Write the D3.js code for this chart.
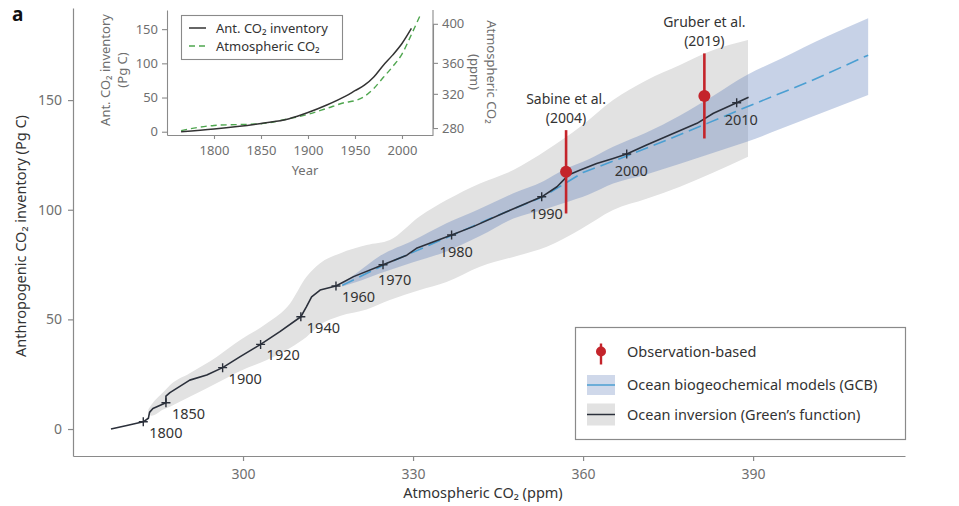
<!DOCTYPE html>
<html><head><meta charset="utf-8">
<script src="https://cdn.jsdelivr.net/npm/d3@7"></script>
<style>
html,body{margin:0;padding:0;background:#fff;}
svg{display:block;font-family:"Noto Sans",sans-serif;}
</style></head>
<body><svg id="c" width="959" height="506"></svg>
<script>
// ---------- DATA ----------
// Ocean inversion (Green's function) path: atmospheric CO2 (ppm) vs inventory (Pg C)
const invPpm = [276.7,279.5,282.4,283.3,283.5,284.1,286.4,286.4,287.1,290.6,293.6,296.4,299.5,303.1,306.5,310.2,311.2,312.1,313.6,316.4,319.5,324.7,328.9,330.6,336.8,340.6,346.5,352.7,355.4,357.4,359.5,362.4,365.3,367.7,371.2,375.9,380.1,383,387.1,389.2];
const invPg  = [0,1.6,3.3,4.9,7.6,9.4,12,15,16.6,22.3,24.6,28,33,38.6,44.4,51.2,55.8,60.3,63.4,65.2,69.5,74.9,79.3,82.4,88.5,92.3,99.1,105.9,110.5,115.8,118.1,121.1,123.4,125.4,129.5,134.8,139.4,144,148.8,151.3];
// Inversion uncertainty band
const greyPpm   = [283.3,283.8,286,287.1,290.6,295.4,299.5,304.2,308.3,311.2,313.6,317.1,321.8,325.9,331.2,335.9,341.8,347.7,353.6,359.5,365.3,371.2,377.1,383,389.1];
const greyLow   = [8,6,9,10.2,14.7,21,26.5,31.5,37,42,47.5,51.5,54.5,58.8,63.4,67,74,78.5,83.1,91,99.9,105,110.5,117,124.2];
const greyHigh  = [9,11,17,20,25.4,33,40.6,48.2,57.3,69.4,75.6,80.1,83.9,86.2,97,104.4,112,118.1,127.2,137.8,150,159.1,166,172.8,177.4];
// Ocean biogeochemical models (GCB)
const gcbPpm   = [317.5,325,337,345,353,360,367.7,375,382,388.4,400,410.3];
const gcbMean  = [65.5,75,88.5,97.5,106,117,124.5,132,139.5,146.4,158.5,170.5];
const bandPpm  = [317.5,320,324.2,330,335.9,341.8,347.7,353,356.5,361,365.3,371,377.1,383,388.9,395,403,410.3];
const bandLow  = [65,67,71,76,81,88,96,100,103,107,112,116,121,126,131,137,145,152.3];
const bandHigh = [66.5,71,79,86,93.8,100.5,107.5,113,118.1,123,128.7,135,143,152,161.4,169,179,187.3];
// Year markers
const markYears = [1800,1850,1900,1920,1940,1960,1970,1980,1990,2000,2010];
const markPpm   = [282.4,286.4,296.4,303.1,310.2,316.4,324.7,336.8,352.7,367.7,387.1];
const markPg    = [3.3,12,28,38.6,51.2,65.2,74.9,88.5,105.9,125.4,148.8];
// Observation-based estimates
const obsNames = ["Sabine et al.","Gruber et al."];
const obsYears = ["(2004)","(2019)"];
const obsPpm   = [357,381.4];
const obsPg    = [117.3,151.9];
const obsErr   = [19,19.4];
// Axis ticks
const xTicks = [300,330,360,390];
const yTicks = [0,50,100,150];
// Inset: time series
const insetYears = [1765,1800,1850,1880,1900,1920,1940,1950,1960,1970,1980,1990,2000,2010];
const insetInv   = [0,4,12,19,28,39,52,60,68,80,97,112,129,151];
const co2Years   = [1765,1800,1850,1880,1900,1920,1940,1950,1960,1970,1980,1990,2000,2010,2020];
const co2Ppm     = [277,283,285,291,296,303,310,312,317,327,341,355,369,389,410];
const insetXTicks = [1800,1850,1900,1950,2000];
const insetYTicks = [0,50,100,150];
const insetRTicks = [280,320,360,400];
const insetRTickEquiv = [5.4,55.4,100.7,157.8]; // inventory level at which each right-axis tick sits

// ---------- STYLE ----------
const C = {grey:"#e2e2e2", band:"rgba(95,125,185,0.35)", gcb:"#4b9fd2", inv:"#2b303b",
           red:"#c4242b", axis:"#8a8a8a", tick:"#6f6f6f", text:"#333", green:"#4fa64f"};

const svg = d3.select("#c");
const x = d3.scaleLinear().domain([270,416.8]).range([73,905]);
const y = d3.scaleLinear().domain([-12.3,192]).range([456,8]);

// bands
const greyData = greyPpm.map((p,i)=>({p,lo:greyLow[i],hi:greyHigh[i]}));
const bandData = bandPpm.map((p,i)=>({p,lo:bandLow[i],hi:bandHigh[i]}));
const area = d3.area().x(d=>x(d.p)).y0(d=>y(d.lo)).y1(d=>y(d.hi)).curve(d3.curveMonotoneX);
svg.append("path").attr("d",area(greyData)).attr("fill",C.grey);
svg.append("path").attr("d",area(bandData)).attr("fill",C.band);

// GCB dashed line
const gcbData = gcbPpm.map((p,i)=>({p,v:gcbMean[i]}));
const line = d3.line().x(d=>x(d.p)).y(d=>y(d.v)).curve(d3.curveLinear);
svg.append("path").attr("d",line(gcbData)).attr("fill","none").attr("stroke",C.gcb)
  .attr("stroke-width",1.6).attr("stroke-dasharray","13,6");

// inversion line
const invData = invPpm.map((p,i)=>({p,v:invPg[i]}));
svg.append("path").attr("d",line(invData)).attr("fill","none").attr("stroke",C.inv)
  .attr("stroke-width",1.6).attr("stroke-linejoin","round");

// year markers
const marks = markYears.map((yr,i)=>({yr,p:markPpm[i],v:markPg[i]}));
svg.selectAll(".mk").data(marks).join("path").attr("class","mk")
  .attr("transform",d=>`translate(${x(d.p)},${y(d.v)})`)
  .attr("d","M-4.5,0H4.5M0,-4.5V4.5").attr("stroke",C.inv).attr("stroke-width",1.4);
function lblOff(yr){ if(yr<=1960) return [6,11]; if(yr===1970) return [-5,15]; return [-12,17]; }
svg.selectAll(".yl").data(marks).join("text").attr("class","yl")
  .attr("x",d=>x(d.p)+lblOff(d.yr)[0]).attr("y",d=>y(d.v)+lblOff(d.yr)[1])
  .attr("dy","0.35em").attr("font-size",14.5).attr("fill",C.text).text(d=>d.yr);

// observations
const obs = obsNames.map((n,i)=>({n,yr:obsYears[i],p:obsPpm[i],v:obsPg[i],e:obsErr[i]}));
const og = svg.selectAll(".ob").data(obs).join("g").attr("class","ob");
og.append("line").attr("x1",d=>x(d.p)).attr("x2",d=>x(d.p))
  .attr("y1",d=>y(d.v-d.e)).attr("y2",d=>y(d.v+d.e)).attr("stroke",C.red).attr("stroke-width",2.6);
og.append("circle").attr("cx",d=>x(d.p)).attr("cy",d=>y(d.v)).attr("r",6).attr("fill",C.red);
og.append("text").attr("x",d=>x(d.p)).attr("y",d=>y(d.v+d.e)-31).attr("dy","0.35em")
  .attr("text-anchor","middle").attr("font-size",14).attr("fill",C.text).text(d=>d.n);
og.append("text").attr("x",d=>x(d.p)).attr("y",d=>y(d.v+d.e)-12).attr("dy","0.35em")
  .attr("text-anchor","middle").attr("font-size",14).attr("fill",C.text).text(d=>d.yr);

// axes
function styleAxis(g){
  g.selectAll(".domain").attr("stroke",C.axis).attr("stroke-width",1.2);
  g.selectAll(".tick line").attr("stroke",C.axis).attr("stroke-width",1.2);
  g.selectAll(".tick text").attr("fill",C.tick).attr("font-size",14).attr("font-family","Noto Sans");
}
svg.append("g").attr("transform","translate(0,456)")
  .call(d3.axisBottom(x).tickValues(xTicks).tickSize(5).tickSizeOuter(0).tickPadding(8)).call(styleAxis);
svg.append("g").attr("transform","translate(73,0)")
  .call(d3.axisLeft(y).tickValues(yTicks).tickSize(5).tickSizeOuter(0).tickPadding(6)).call(styleAxis);
svg.append("text").attr("x",483).attr("y",493).attr("dy","0.35em").attr("text-anchor","middle")
  .attr("font-size",14.5).attr("fill",C.text).text("Atmospheric CO₂ (ppm)");
svg.append("text").attr("transform","translate(21,236) rotate(-90)").attr("dy","0.35em")
  .attr("text-anchor","middle").attr("font-size",14.5).attr("fill",C.text)
  .text("Anthropogenic CO₂ inventory (Pg C)");
svg.append("text").attr("x",12).attr("y",21).attr("font-size",19).attr("font-weight","bold")
  .attr("fill","#111").text("a");

// legend
const lg = svg.append("g");
lg.append("rect").attr("x",575.5).attr("y",327.5).attr("width",330).attr("height",112)
  .attr("fill","#fff").attr("stroke",C.axis).attr("stroke-width",1.2);
const ly = [351.5,385,414.5], lx = 601, tx = 627;
lg.append("line").attr("x1",lx).attr("x2",lx).attr("y1",ly[0]-8).attr("y2",ly[0]+13)
  .attr("stroke",C.red).attr("stroke-width",2.4);
lg.append("circle").attr("cx",lx).attr("cy",ly[0]).attr("r",5).attr("fill",C.red);
lg.append("rect").attr("x",587).attr("y",ly[1]-10).attr("width",28).attr("height",20).attr("fill","rgba(95,125,185,0.3)");
lg.append("line").attr("x1",587).attr("x2",615).attr("y1",ly[1]).attr("y2",ly[1]).attr("stroke",C.gcb).attr("stroke-width",1.5);
lg.append("rect").attr("x",587).attr("y",ly[2]-11).attr("width",28).attr("height",22).attr("fill",C.grey);
lg.append("line").attr("x1",587).attr("x2",615).attr("y1",ly[2]).attr("y2",ly[2]).attr("stroke",C.inv).attr("stroke-width",1.5);
["Observation-based","Ocean biogeochemical models (GCB)","Ocean inversion (Green’s function)"].forEach((t,i)=>{
  lg.append("text").attr("x",tx).attr("y",ly[i]).attr("dy","0.35em").attr("font-size",14.5)
    .attr("fill",C.text).text(t);
});

// ---------- INSET ----------
const xi = d3.scaleLinear().domain([1750,2033]).range([167,433]);
const yi = d3.scaleLinear().domain([-4.8,178]).range([135,10]);
const yr = d3.scaleLinear().domain(insetRTicks).range(insetRTickEquiv.map(v=>yi(v)));
const ig = svg.append("g");
function styleIn(g){
  g.selectAll(".domain").attr("stroke",C.axis).attr("stroke-width",1.1);
  g.selectAll(".tick line").attr("stroke",C.axis).attr("stroke-width",1.1);
  g.selectAll(".tick text").attr("fill",C.tick).attr("font-size",13).attr("font-family","Noto Sans");
}
ig.append("g").attr("transform","translate(0,135)")
  .call(d3.axisBottom(xi).tickValues(insetXTicks).tickFormat(d3.format("d")).tickSize(4).tickSizeOuter(0).tickPadding(7)).call(styleIn);
ig.append("g").attr("transform","translate(167,0)")
  .call(d3.axisLeft(yi).tickValues(insetYTicks).tickSize(5).tickSizeOuter(0).tickPadding(4)).call(styleIn);
ig.append("g").attr("transform","translate(433,0)")
  .call(d3.axisRight(yr).tickValues(insetRTicks).tickSize(5).tickSizeOuter(0).tickPadding(4)).call(styleIn);
// right axis domain should span full inset height
ig.append("line").attr("x1",433).attr("x2",433).attr("y1",10).attr("y2",135).attr("stroke",C.axis).attr("stroke-width",1.1);

const co2Data = co2Years.map((t,i)=>({t,v:co2Ppm[i]}));
const invTs = insetYears.map((t,i)=>({t,v:insetInv[i]}));
ig.append("path").attr("d",d3.line().x(d=>xi(d.t)).y(d=>yr(d.v)).curve(d3.curveMonotoneX)(co2Data))
  .attr("fill","none").attr("stroke",C.green).attr("stroke-width",1.4).attr("stroke-dasharray","6,4");
ig.append("path").attr("d",d3.line().x(d=>xi(d.t)).y(d=>yi(d.v)).curve(d3.curveMonotoneX)(invTs))
  .attr("fill","none").attr("stroke","#333").attr("stroke-width",1.5);

ig.append("text").attr("x",305).attr("y",170).attr("dy","0.35em").attr("text-anchor","middle")
  .attr("font-size",13).attr("fill",C.tick).text("Year");
ig.append("text").attr("transform","translate(105,70) rotate(-90)").attr("dy","0.35em")
  .attr("text-anchor","middle").attr("font-size",13).attr("fill",C.tick).text("Ant. CO₂ inventory");
ig.append("text").attr("transform","translate(122,70) rotate(-90)").attr("dy","0.35em")
  .attr("text-anchor","middle").attr("font-size",13).attr("fill",C.tick).text("(Pg C)");
ig.append("text").attr("transform","translate(492,72) rotate(90)").attr("dy","0.35em")
  .attr("text-anchor","middle").attr("font-size",13).attr("fill",C.tick).text("Atmospheric CO₂");
ig.append("text").attr("transform","translate(475,72) rotate(90)").attr("dy","0.35em")
  .attr("text-anchor","middle").attr("font-size",13).attr("fill",C.tick).text("(ppm)");

// inset legend
ig.append("rect").attr("x",181.5).attr("y",15.5).attr("width",161).attr("height",44)
  .attr("fill","#fff").attr("stroke",C.axis).attr("stroke-width",1.1);
ig.append("line").attr("x1",189).attr("x2",206).attr("y1",28).attr("y2",28).attr("stroke","#333").attr("stroke-width",1.5);
ig.append("line").attr("x1",189).attr("x2",208).attr("y1",46).attr("y2",46).attr("stroke",C.green)
  .attr("stroke-width",1.4).attr("stroke-dasharray","6,4");
ig.append("text").attr("x",216).attr("y",28).attr("dy","0.35em").attr("font-size",13)
  .attr("fill",C.text).text("Ant. CO₂ inventory");
ig.append("text").attr("x",216).attr("y",46).attr("dy","0.35em").attr("font-size",13)
  .attr("fill",C.text).text("Atmospheric CO₂");
</script></body></html>
